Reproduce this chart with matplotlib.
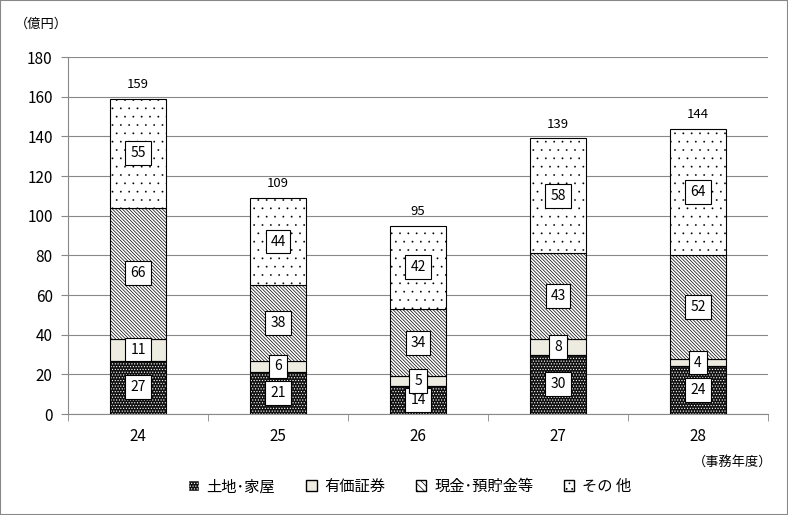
import matplotlib.pyplot as plt
from matplotlib.patches import Patch
import numpy as np

plt.rcParams['font.family'] = ['Noto Sans CJK JP', 'DejaVu Sans']
plt.rcParams['hatch.linewidth'] = 0.5

years = ['24', '25', '26', '27', '28']
land = [27, 21, 14, 30, 24]
securities = [11, 6, 5, 8, 4]
cash = [66, 38, 34, 43, 52]
other = [55, 44, 42, 58, 64]
totals = [159, 109, 95, 139, 144]
names = ['土地･家屋', '有価証券', '現金･預貯金等', 'その 他']

fig = plt.figure(figsize=(7.88, 5.15), dpi=100)
ax = fig.add_axes([0.0863, 0.196, 0.8883, 0.693])
x = np.arange(len(years))
w = 0.4

h_land = '......'
h_cash = '\\\\\\\\\\\\\\\\\\\\'
h_other = '..'

# bottom: black with white dots
b0 = np.zeros(len(years))
ax.bar(x, land, w, bottom=b0, color='#111111', edgecolor='white', hatch=h_land, lw=0, zorder=2)
ax.bar(x, land, w, bottom=b0, fill=False, edgecolor='black', lw=0.8, zorder=3)
b1 = b0 + land
ax.bar(x, securities, w, bottom=b1, color='#EEECE1', edgecolor='black', lw=0.8, zorder=2)
b2 = b1 + securities
ax.bar(x, cash, w, bottom=b2, color='white', edgecolor='black', hatch=h_cash, lw=0.8, zorder=2)
b3 = b2 + cash
with plt.rc_context({'hatch.linewidth': 0.1}):
    ax.bar(x, other, w, bottom=b3, color='white', edgecolor='black', hatch=h_other, lw=0.8, zorder=2)

box = dict(boxstyle='square,pad=0.35', fc='white', ec='black', lw=0.8)
for vals, base in [(land, b0), (securities, b1), (cash, b2), (other, b3)]:
    for i, v in enumerate(vals):
        ax.text(x[i], base[i] + v / 2, str(v), ha='center', va='center', fontsize=10, bbox=box, zorder=4)
for i, t in enumerate(totals):
    ax.text(x[i], t + 4, str(t), ha='center', va='bottom', fontsize=9.5)

ax.set_xlim(-0.5, len(years) - 0.5)
ax.set_ylim(0, 180)
ax.set_yticks(range(0, 181, 20))
ax.set_xticks(x)
ax.set_xticklabels(years)
ax.set_xticks(np.arange(-0.5, len(years), 1), minor=True)
ax.tick_params(axis='x', which='major', length=0, labelsize=11, pad=10)
ax.tick_params(axis='x', which='minor', length=5, color='#888888')
ax.tick_params(axis='y', length=5, color='#888888', labelsize=11, pad=6)
ax.grid(axis='y', color='#888888', lw=0.8, zorder=0)
ax.set_axisbelow(True)
for s in ['top', 'right']:
    ax.spines[s].set_visible(False)
for s in ['left', 'bottom']:
    ax.spines[s].set_color('#888888')

fig.text(0.052, 0.952, '（億円）', ha='center', va='center', fontsize=9.5)
fig.text(0.93, 0.103, '（事務年度）', ha='center', va='center', fontsize=9.5)

handles = [
    Patch(facecolor='#111111', edgecolor='white', hatch=h_land),
    Patch(facecolor='#EEECE1', edgecolor='black'),
    Patch(facecolor='white', edgecolor='black', hatch='\\\\\\\\\\'),
]
with plt.rc_context({'hatch.linewidth': 0.1}):
    handles.append(Patch(facecolor='white', edgecolor='black', hatch='...'))
fig.legend(handles, names, loc='center', bbox_to_anchor=(0.52, 0.055), ncol=4, frameon=False,
           fontsize=11, handlelength=0.7, handleheight=0.7, columnspacing=2.0, handletextpad=0.5)

fig.patches.append(plt.Rectangle((0, 0), 1, 1, transform=fig.transFigure, fill=False,
                                 edgecolor='#888888', lw=1.5))
fig.savefig('out.png', dpi=100)
